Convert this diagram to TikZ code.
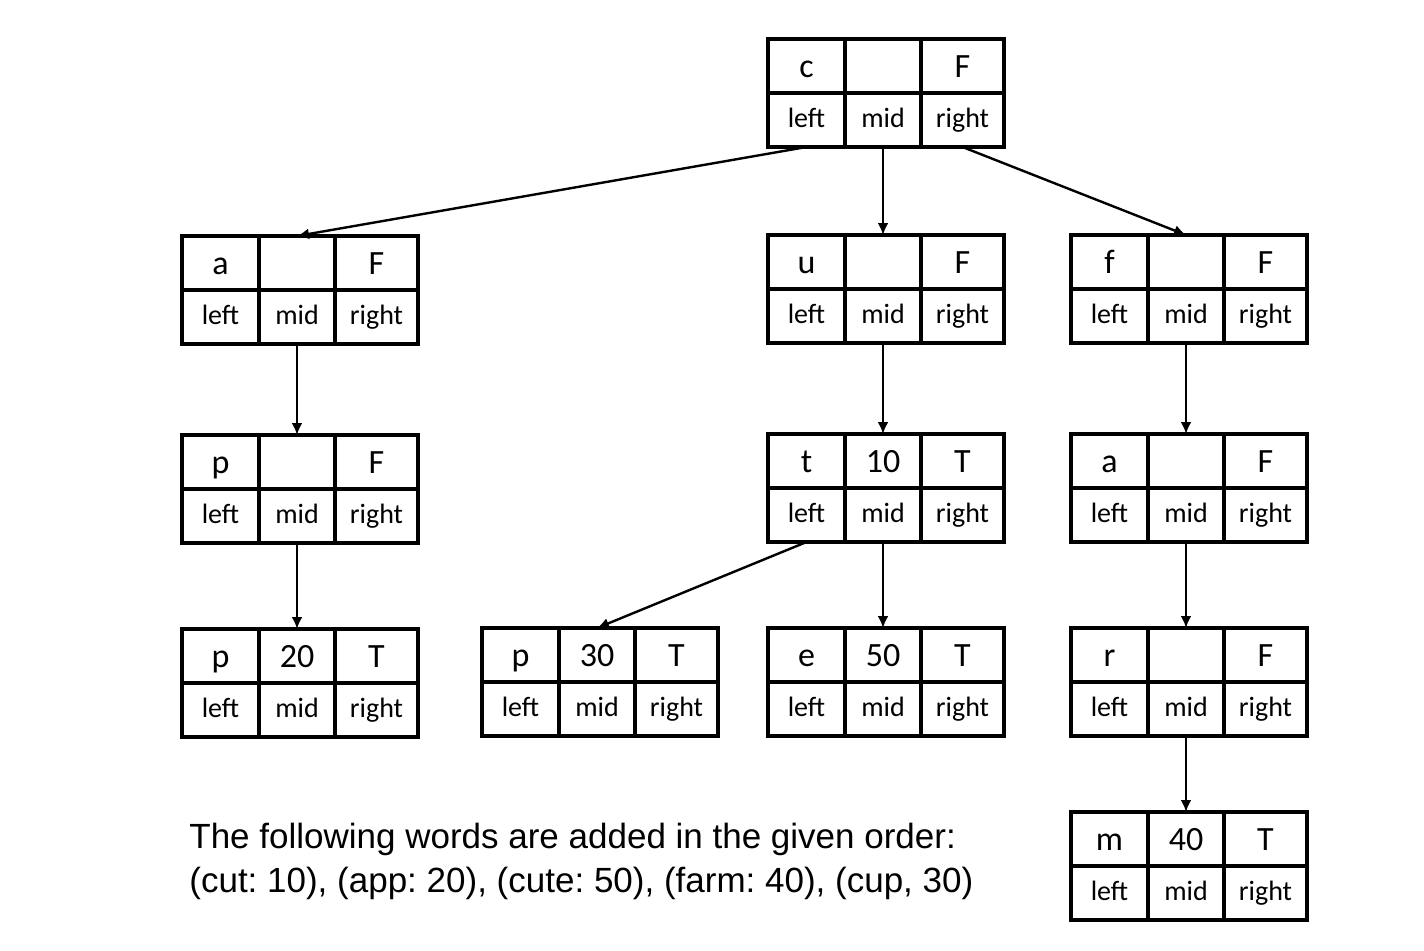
\documentclass[tikz,border=0pt]{standalone}
\usepackage{fontspec}
\setmainfont{Carlito}
\newfontfamily\notefont{Liberation Sans}
\usetikzlibrary{positioning,arrows.meta}
\tikzset{
  cell/.style={draw,line width=1.6pt,outer sep=0pt,inner sep=0pt,
    minimum height=27pt,text height=9.8pt,text depth=2.7pt,
    font=\fontsize{14}{16}\selectfont},
  keycell/.style={cell,text height=12pt,text depth=1pt,
    font=\fontsize{17}{20}\selectfont},
  ccell/.style={minimum width=38.5pt},
  vcell/.style={minimum width=38pt},
  fcell/.style={minimum width=41.5pt},
  link/.style={-{Latex[length=6pt,width=5.5pt]},line width=1.2pt},
  note/.style={align=left,inner sep=0pt,
    font=\notefont\fontsize{17.5}{22}\selectfont\frenchspacing}
}
% one trie node: name, top-left corner, char, value, end flag
\newcommand{\trienode}[5]{%
  \node[keycell,ccell,anchor=north west] (#1-c) at (#2) {#3};
  \node[keycell,vcell,right=0pt of #1-c] (#1-v) {#4};
  \node[keycell,fcell,right=0pt of #1-v] (#1-f) {#5};
  \node[cell,ccell,below=0pt of #1-c] (#1-l) {left};
  \node[cell,vcell,below=0pt of #1-v] (#1-m) {mid};
  \node[cell,fcell,below=0pt of #1-f] (#1-r) {right};
}
\begin{document}
\begin{tikzpicture}[x=0.5pt,y=-0.5pt]
  \useasboundingbox (0,0) rectangle (1424,950);
  % level 0
  \trienode{root}{768,39}{c}{}{F}
  % level 1
  \trienode{a}{182,236}{a}{}{F}
  \trienode{u}{768,235}{u}{}{F}
  \trienode{f}{1071,235}{f}{}{F}
  % level 2
  \trienode{p1}{182,435}{p}{}{F}
  \trienode{t}{768,434}{t}{10}{T}
  \trienode{a2}{1071,434}{a}{}{F}
  % level 3
  \trienode{p20}{182,629}{p}{20}{T}
  \trienode{p30}{482,628}{p}{30}{T}
  \trienode{e}{768,628}{e}{50}{T}
  \trienode{r}{1071,628}{r}{}{F}
  % level 4
  \trienode{m}{1071,812}{m}{40}{T}

  \draw[link] (root-l.south) -- (a-v.north);
  \draw[link] (root-r.south) -- (f-v.north);
  \draw[link] (t-l.south) -- (p30-v.north);
  \foreach \s/\d in {root/u,a/p1,p1/p20,u/t,t/e,f/a2,a2/r,r/m}
    \draw[link] (\s-m.south) -- (\d-v.north);

  \node[note,anchor=north west] (order) at (189,823)
    {The following words are added in the given order:\\
     (cut: 10), (app: 20), (cute: 50), (farm: 40), (cup, 30)};
\end{tikzpicture}
\end{document}
